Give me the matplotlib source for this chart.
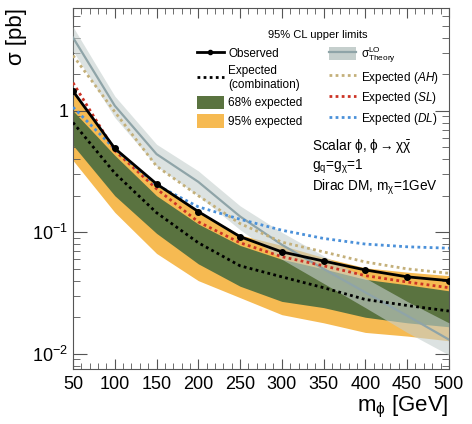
import matplotlib
matplotlib.use('Agg')
import matplotlib.pyplot as plt
from matplotlib.lines import Line2D
from matplotlib.patches import Patch
from matplotlib.ticker import MultipleLocator, FixedLocator, FixedFormatter, NullFormatter, LogLocator

plt.rcParams['font.family'] = ['Liberation Sans', 'DejaVu Sans']
plt.rcParams['mathtext.fontset'] = 'custom'
plt.rcParams['mathtext.rm'] = 'Liberation Sans'
plt.rcParams['mathtext.it'] = 'Liberation Sans:italic'
plt.rcParams['mathtext.bf'] = 'Liberation Sans:bold'
plt.rcParams['mathtext.default'] = 'regular'

mass = [50, 100, 150, 200, 250, 300, 350, 400, 450, 500]
observed = [1.45, 0.49, 0.25, 0.148, 0.092, 0.069, 0.058, 0.049, 0.043, 0.040]
expected = [0.80, 0.307, 0.145, 0.082, 0.053, 0.043, 0.035, 0.028, 0.025, 0.0225]
exp68_lo = [0.52, 0.20, 0.098, 0.055, 0.036, 0.027, 0.024, 0.020, 0.018, 0.0167]
exp68_hi = [1.0, 0.43, 0.20, 0.117, 0.078, 0.060, 0.050, 0.041, 0.037, 0.033]
exp95_lo = [0.39, 0.146, 0.067, 0.040, 0.029, 0.021, 0.018, 0.015, 0.014, 0.0128]
exp95_hi = [1.42, 0.50, 0.245, 0.150, 0.095, 0.078, 0.062, 0.051, 0.047, 0.044]
exp_ah = [2.85, 0.98, 0.35, 0.20, 0.118, 0.083, 0.069, 0.057, 0.050, 0.046]
exp_sl = [1.70, 0.47, 0.228, 0.122, 0.082, 0.063, 0.053, 0.044, 0.039, 0.035]
exp_dl = [1.07, 0.485, 0.245, 0.162, 0.128, 0.104, 0.089, 0.080, 0.076, 0.074]
theory = [4.0, 1.1, 0.44, 0.26, 0.135, 0.079, 0.050, 0.032, 0.0206, 0.0131]
theory_hi = [4.9, 1.32, 0.53, 0.32, 0.165, 0.10, 0.064, 0.042, 0.027, 0.018]
theory_lo = [3.1, 0.88, 0.35, 0.20, 0.105, 0.060, 0.038, 0.024, 0.015, 0.0098]

GREEN = '#5a7340'
YELLOW = '#f6ba52'
GREY_BAND = '#c5cfcd'
GREY_LINE = '#8fa4a8'
TAN = '#c4b07a'
RED = '#cc3325'
BLUE = '#4a90d9'


def main() -> None:
    fig = plt.figure(figsize=(4.72, 4.24), dpi=100)
    ax = fig.add_axes([0.1547, 0.1297, 0.7963, 0.8513])

    ax.fill_between(mass, exp95_lo, exp95_hi, color=YELLOW, lw=0, zorder=1)
    ax.fill_between(mass, exp68_lo, exp68_hi, color=GREEN, lw=0, zorder=2)
    ax.fill_between(mass, theory_lo, theory_hi, color=GREY_BAND, alpha=0.6, lw=0, zorder=3)
    ax.plot(mass, theory, color=GREY_LINE, lw=1.6, zorder=4)
    ax.plot(mass, exp_ah, color=TAN, lw=2, ls=(0, (1, 1.2)), zorder=5)
    ax.plot(mass, exp_sl, color=RED, lw=2, ls=(0, (1, 1.2)), zorder=5)
    ax.plot(mass, exp_dl, color=BLUE, lw=2, ls=(0, (1, 1.2)), zorder=5)
    ax.plot(mass, expected, color='black', lw=2, ls=(0, (1, 1.2)), zorder=6)
    ax.plot(mass, observed, color='black', lw=2, marker='o', ms=4, zorder=7)

    ax.set_yscale('log')
    ax.set_xlim(50, 500)
    ax.set_ylim(0.0075, 7.0)

    ax.xaxis.set_major_locator(MultipleLocator(50))
    ax.xaxis.set_minor_locator(MultipleLocator(10))
    ax.yaxis.set_major_locator(FixedLocator([0.01, 0.1, 1]))
    ax.yaxis.set_major_formatter(FixedFormatter([r'$10^{-2}$', r'$10^{-1}$', '1']))
    ax.yaxis.set_minor_locator(LogLocator(base=10, subs=range(2, 10)))
    ax.yaxis.set_minor_formatter(NullFormatter())
    ax.tick_params(which='both', direction='in', top=True, right=True, labelsize=13, color='#555555')
    ax.tick_params(axis='x', which='major', length=7, pad=5)
    ax.tick_params(axis='x', which='minor', length=4)
    ax.tick_params(axis='y', which='major', length=10)
    ax.tick_params(axis='y', which='minor', length=5)
    for s in ax.spines.values():
        s.set_color('#555555')

    ax.set_ylabel('σ [pb]', fontsize=16, loc='top', labelpad=4)
    ax.set_xlabel(r'$m_{\phi}$ [GeV]', fontsize=16, loc='right', labelpad=1)

    handles = [
        Line2D([], [], color='black', lw=2, marker='o', ms=3),
        Line2D([], [], color='black', lw=2, ls=(0, (1, 1.2))),
        Patch(color=GREEN, lw=0),
        Patch(color=YELLOW, lw=0),
        (Patch(color=GREY_BAND, lw=0), Line2D([], [], color=GREY_LINE, lw=1.6)),
        Line2D([], [], color=TAN, lw=2, ls=(0, (1, 1.2))),
        Line2D([], [], color=RED, lw=2, ls=(0, (1, 1.2))),
        Line2D([], [], color=BLUE, lw=2, ls=(0, (1, 1.2))),
    ]
    labels = [
        'Observed',
        'Expected\n(combination)',
        '68% expected',
        '95% expected',
        r'$\sigma^{LO}_{Theory}$',
        r'Expected ($\mathit{AH}$)',
        r'Expected ($\mathit{SL}$)',
        r'Expected ($\mathit{DL}$)',
    ]
    ax.legend(handles, labels, ncol=2, loc='upper right', bbox_to_anchor=(1.0, 0.97),
              frameon=False, fontsize=8.5, title='95% CL upper limits', title_fontsize=8,
              handlelength=2.3, handleheight=1.4, columnspacing=2.2, labelspacing=0.4,
              handletextpad=0.4)

    ax.text(0.635, 0.608, r'Scalar $\phi$, $\phi \rightarrow \chi\bar{\chi}$', transform=ax.transAxes, fontsize=9.8)
    ax.text(0.635, 0.553, r'$g_q$=$g_\chi$=1', transform=ax.transAxes, fontsize=9.8)
    ax.text(0.635, 0.495, r'Dirac DM, $m_\chi$=1GeV', transform=ax.transAxes, fontsize=9.8)

    fig.savefig('out.png', dpi=100)


if __name__ == '__main__':
    main()
